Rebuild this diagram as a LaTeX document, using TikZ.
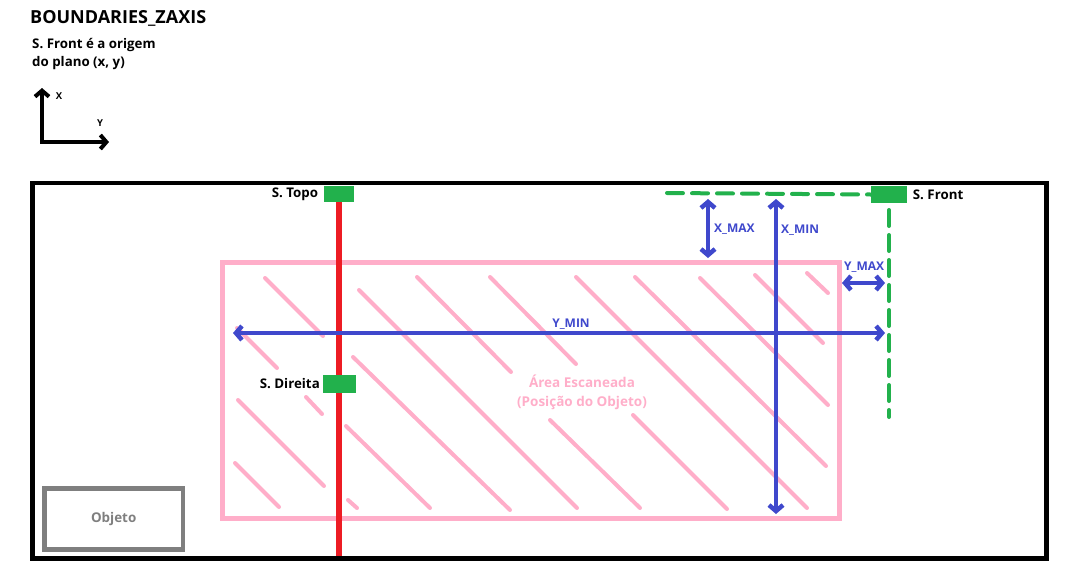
\documentclass[tikz,border=0pt]{standalone}
\usepackage{fontspec}
\setmainfont{Open Sans}
\usetikzlibrary{arrows.meta,positioning}
\definecolor{scanpink}{RGB}{255,174,201}
\definecolor{sensgreen}{RGB}{34,177,76}
\definecolor{dimblue}{RGB}{63,72,204}
\definecolor{laserred}{RGB}{237,28,36}
\definecolor{objgray}{RGB}{127,127,127}
\tikzset{
  % Moldura e objeto
  framebox/.style  = {line width=4.5pt, draw=black},
  objbox/.style    = {line width=4.5pt, draw=objgray, minimum width=138.5pt, minimum height=61pt,
                      inner sep=0pt, font=\fontsize{13.4}{15}\selectfont\bfseries, text=objgray},
  % Area escaneada
  scanbox/.style   = {line width=4.5pt, draw=scanpink},
  hatchline/.style = {line width=4pt, draw=scanpink, line cap=round},
  % Sensores
  sensor/.style    = {fill=sensgreen, minimum width=30pt, minimum height=16pt, inner sep=0pt},
  laser/.style     = {line width=6pt, draw=laserred},
  frontline/.style = {line width=4pt, draw=sensgreen, line cap=round, dash pattern=on 16pt off 9pt},
  % Setas
  dimarrow/.style  = {{Straight Barb[length=6pt,width=14pt]}-{Straight Barb[length=6pt,width=14pt]},
                      line width=4.5pt, draw=dimblue},
  axisarrow/.style = {{Straight Barb[length=6pt,width=14pt]}-{Straight Barb[length=6pt,width=14pt]},
                      line width=4pt},
  % Textos
  lab/.style       = {font=\fontsize{13.3}{18}\selectfont\bfseries, inner sep=0pt},
  axislab/.style   = {font=\fontsize{9.5}{10}\selectfont\bfseries, inner sep=0pt},
  dimlab/.style    = {font=\fontsize{12}{14}\selectfont\bfseries, text=dimblue, inner sep=0pt},
}
\begin{document}
\begin{tikzpicture}[x=1pt,y=-1pt]
  \useasboundingbox (0,0) rectangle (1080,587);
  % Titulo
  \node[font=\fontsize{18}{21}\selectfont\bfseries, anchor=west, inner sep=0pt] (title) at (30,18) {BOUNDARIES\_ZAXIS};
  \node[lab, anchor=west, align=left, font=\fontsize{13.3}{18}\selectfont\bfseries] (origem) at (32,54) {S. Front é a origem\\do plano (x, y)};
  % Eixos
  \coordinate (eixo) at (42,142);
  \coordinate (eixoX) at (42,88);
  \coordinate (eixoY) at (109,142);
  \draw[axisarrow] (eixoX) -- (eixo) -- (eixoY);
  \node[axislab] (labX) at (59,96) {X};
  \node[axislab] (labY) at (100,123) {Y};
  % Hachura
  \foreach \xa/\ya/\xb/\yb in {265/278/323/336, 237/328/277/368, 359/290/577/508,
      417/277/511/372, 353/357/510/510, 238/400/324/486, 306/397/322/414,
      235/463/279/507, 346/426/430/508, 348/500/357/508, 490/277/576/364,
      576/277/807/508, 635/277/826/466, 550/420/640/508, 633/415/727/509,
      700/278/828/405, 755/275/823/343, 807/273/828/293}
    \draw[hatchline] (\xa,\ya) -- (\xb,\yb);
  % Area escaneada
  \draw[scanbox] (222.5,262.5) rectangle (839.5,518.5);
  \node[lab, text=scanpink, align=center, font=\fontsize{13.5}{19}\selectfont\bfseries] (area) at (582,392) {Área Escaneada\\(Posição do Objeto)};
  % Laser e sensores
  \coordinate (laserA) at (339,186);
  \coordinate (laserB) at (339,556);
  \draw[laser] (laserA) -- (laserB);
  \node[sensor] (topo) at (339,194) {};
  \node[sensor, minimum width=33pt, minimum height=18pt] (direita) at (339.7,384) {};
  \node[sensor, minimum width=36pt, minimum height=17pt] (front) at (889,194.5) {};
  \node[lab, left=5.5pt of topo] (ltopo) {S. Topo};
  \node[lab, left=3pt of direita] (ldireita) {S. Direita};
  \node[lab, right=5.5pt of front] (lfront) {S. Front};
  % Linhas do S. Front
  \coordinate (frontH) at (667,193);
  \coordinate (frontV0) at (889,210);
  \coordinate (frontV) at (889,417);
  \draw[frontline] (frontH) -- (front.west);
  \draw[frontline] (frontV0) -- (frontV);
  % Cotas
  \coordinate (xmaxA) at (708,199);
  \coordinate (xmaxB) at (708,258);
  \coordinate (xminA) at (776,199);
  \coordinate (xminB) at (776,514);
  \coordinate (ymaxA) at (842,283);
  \coordinate (ymaxB) at (885,283);
  \coordinate (yminA) at (233,333);
  \coordinate (yminB) at (885,333);
  \draw[dimarrow] (xmaxA) -- (xmaxB);
  \draw[dimarrow] (xminA) -- (xminB);
  \draw[dimarrow] (ymaxA) -- (ymaxB);
  \draw[dimarrow] (yminA) -- (yminB);
  \node[dimlab, anchor=west] (lxmax) at (714,229) {X\_MAX};
  \node[dimlab, anchor=west] (lxmin) at (781,230) {X\_MIN};
  \node[dimlab, anchor=west] (lymax) at (844,267) {Y\_MAX};
  \node[dimlab] (lymin) at (571,324) {Y\_MIN};
  % Objeto
  \node[objbox] (objeto) at (113.7,519) {Objeto};
  % Moldura
  \draw[framebox] (32.5,183) rectangle (1046.7,558.3);
\end{tikzpicture}
\end{document}
